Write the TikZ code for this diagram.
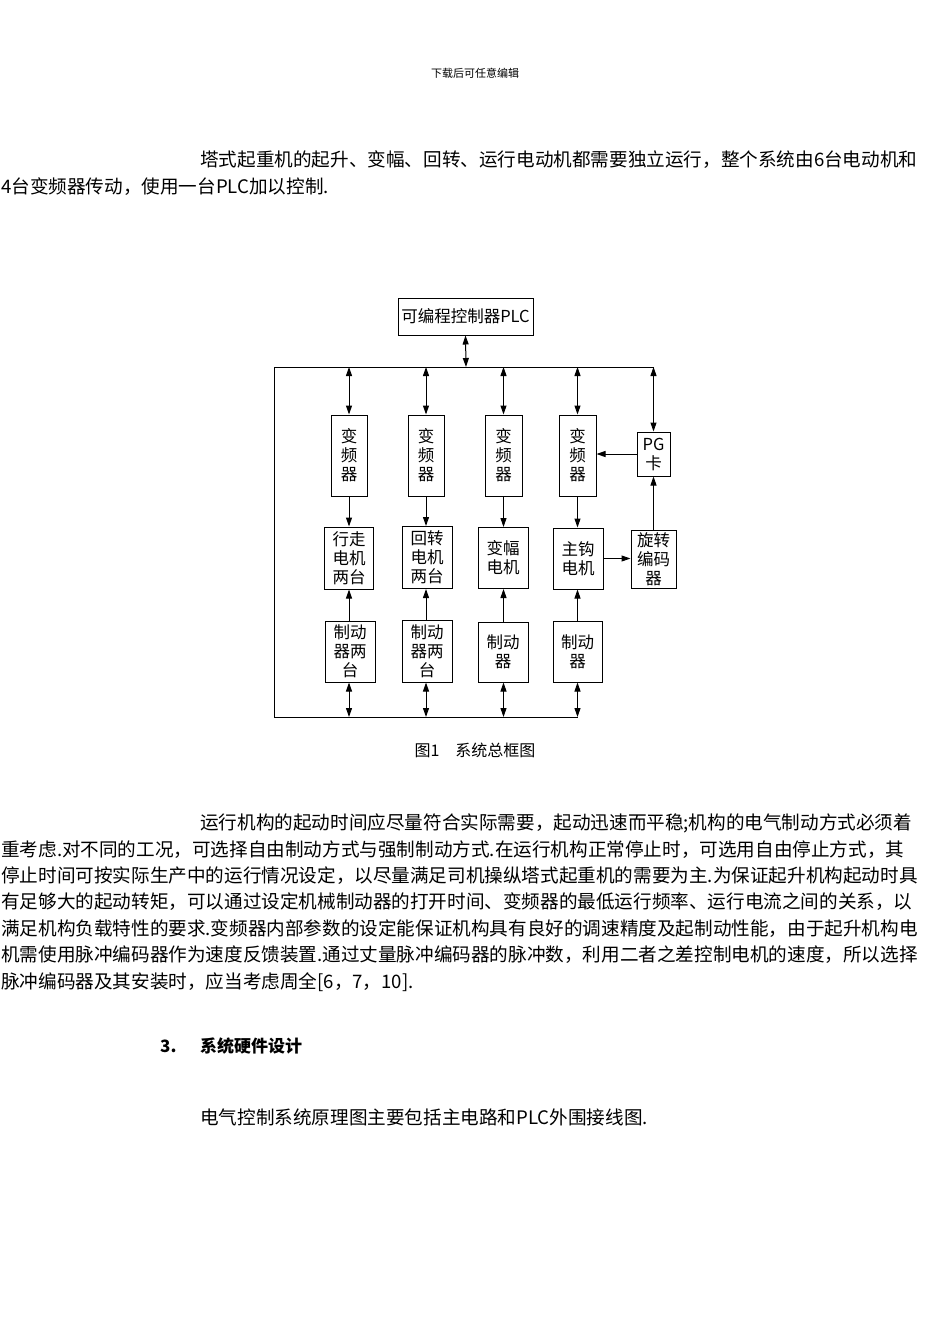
\documentclass[tikz,border=0pt]{standalone}
\usepackage{fontspec}
\setmainfont{Noto Sans CJK SC}
\usetikzlibrary{arrows.meta}
\begin{document}
\begin{tikzpicture}[x=1pt,y=-1pt,
  box/.style={draw,line width=1pt,inner sep=0pt,align=center,font=\fontsize{16.5}{19}\selectfont},
  txt/.style={anchor=west,inner sep=0pt,font=\fontsize{18.6}{20}\selectfont},
  ln/.style={line width=1pt},
  ar/.style={line width=1pt,-{Triangle[length=9pt,width=6pt]}},
  dar/.style={line width=1pt,{Triangle[length=9pt,width=6pt]}-{Triangle[length=9pt,width=6pt]}}]
\useasboundingbox (0,0) rectangle (950,1344);
\fill[white] (0,0) rectangle (950,1344);
\node[inner sep=0pt,font=\fontsize{11}{12}\selectfont] (hdr) at (475,73) {下载后可任意编辑};
\node[txt] (p1a) at (200,160) {塔式起重机的起升、变幅、回转、运行电动机都需要独立运行，整个系统由6台电动机和};
\node[txt] (p1b) at (1,187) {4台变频器传动，使用一台PLC加以控制.};
% diagram
\node[box,minimum width=135pt,minimum height=37pt] (plc) at (465.5,316.5) {可编程控制器PLC};
\coordinate (tl) at (274,367); \coordinate (tr) at (654,367);
\coordinate (bl) at (274,717); \coordinate (br) at (578,717);
\draw[ln] (tr) -- (tl) -- (bl) -- (br);
\coordinate (pb) at (466,367);
\draw[dar] (plc.south) -- (pb);
\foreach \n/\x/\w in {1/349/36,2/426/36,3/503.5/37,4/577.5/37}{
  \node[box,minimum width=\w pt,minimum height=81pt] (inv\n) at (\x,455.5) {变\\频\\器};
  \coordinate (t\n) at (\x,367); \coordinate (b\n) at (\x,717);
}
\node[box,minimum width=49pt,minimum height=62pt] (m1) at (349,558) {行走\\电机\\两台};
\node[box,minimum width=50pt,minimum height=62pt] (m2) at (427,557.5) {回转\\电机\\两台};
\node[box,minimum width=50pt,minimum height=61pt] (m3) at (503,558) {变幅\\电机};
\node[box,minimum width=50pt,minimum height=61pt] (m4) at (578,558.5) {主钩\\电机};
\node[box,minimum width=45pt,minimum height=58pt] (enc) at (653.5,559) {旋转\\编码\\器};
\node[box,minimum width=33pt,minimum height=44pt] (pg) at (653.5,454) {PG\\卡};
\coordinate (tpg) at (653.5,367);
\node[box,minimum width=50pt,minimum height=61pt] (k1) at (350,651.5) {制动\\器两\\台};
\node[box,minimum width=50pt,minimum height=62pt] (k2) at (427,651) {制动\\器两\\台};
\node[box,minimum width=50pt,minimum height=60pt] (k3) at (503,652) {制动\\器};
\node[box,minimum width=49pt,minimum height=61pt] (k4) at (577.5,651.5) {制动\\器};
\foreach \n in {1,2,3,4}{
  \draw[dar] (t\n) -- (inv\n.north);
  \draw[ar] (inv\n.south) -- (inv\n.south |- m\n.north);
  \draw[ar] (inv\n.south |- k\n.north) -- (inv\n.south |- m\n.south);
  \draw[dar] (inv\n.south |- k\n.south) -- (b\n);
}
\draw[dar] (tpg) -- (pg.north);
\draw[ar] (pg.west) -- (inv4.east |- pg.west);
\draw[ar] (enc.north) -- (pg.south);
\draw[ar] (m4.east) -- (enc.west |- m4.east);
\node[inner sep=0pt,font=\fontsize{16}{18}\selectfont] (cap) at (475,750) {图1\hspace{16pt}系统总框图};
% paragraph 2
\node[txt] (q1) at (200,823) {运行机构的起动时间应尽量符合实际需要，起动迅速而平稳;机构的电气制动方式必须着};
\node[txt] (q2) at (1,850) {重考虑.对不同的工况，可选择自由制动方式与强制制动方式.在运行机构正常停止时，可选用自由停止方式，其};
\node[txt] (q3) at (1,876) {停止时间可按实际生产中的运行情况设定，以尽量满足司机操纵塔式起重机的需要为主.为保证起升机构起动时具};
\node[txt] (q4) at (1,902) {有足够大的起动转矩，可以通过设定机械制动器的打开时间、变频器的最低运行频率、运行电流之间的关系，以};
\node[txt] (q5) at (1,929) {满足机构负载特性的要求.变频器内部参数的设定能保证机构具有良好的调速精度及起制动性能，由于起升机构电};
\node[txt] (q6) at (1,955) {机需使用脉冲编码器作为速度反馈装置.通过丈量脉冲编码器的脉冲数，利用二者之差控制电机的速度，所以选择};
\node[txt] (q7) at (1,982) {脉冲编码器及其安装时，应当考虑周全[6，7，10].};
\node[txt,font=\bfseries\fontsize{17}{19}\selectfont] (h3n) at (160,1046) {3.};
\node[txt,font=\bfseries\fontsize{17}{19}\selectfont] (h3) at (200,1046) {系统硬件设计};
\node[txt] (last) at (200,1117) {电气控制系统原理图主要包括主电路和PLC外围接线图.};
\end{tikzpicture}
\end{document}
